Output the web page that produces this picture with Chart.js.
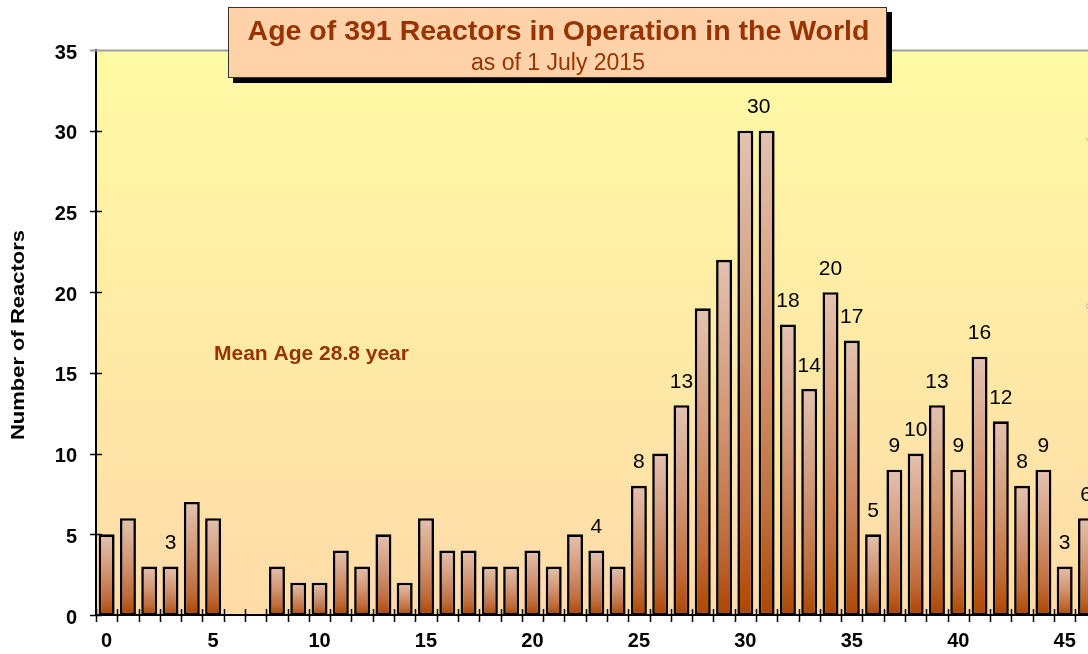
<!DOCTYPE html>
<html><head><meta charset="utf-8">
<script src="https://cdn.jsdelivr.net/npm/chart.js@4.4.1/dist/chart.umd.min.js"></script>
<style>
html,body{margin:0;padding:0;background:#fff;overflow:hidden;width:1088px;height:654px}
#wrap{position:absolute;left:0;top:0;width:1100px;height:654px}
</style>
</head><body><div id="wrap"><canvas id="c" width="1100" height="654"></canvas></div>
<script>
// ---- data ----
const ages = ['0','1','2','3','4','5','6','7','8','9','10','11','12','13','14','15','16','17','18','19','20','21','22','23','24','25','26','27','28','29','30','31','32','33','34','35','36','37','38','39','40','41','42','43','44','45','46'];
const reactors = [5,6,3,3,7,6,0,0,3,2,2,4,3,5,2,6,4,4,3,3,4,3,5,4,3,8,10,13,19,22,30,30,18,14,20,17,5,9,10,13,9,16,12,8,9,3,6];
const labeledAges = [3,23,25,27,31,32,33,34,35,36,37,38,39,40,41,42,43,44,45,46];
const xTickLabels = ['0','5','10','15','20','25','30','35','40','45'];
const yTickValues = [0,5,10,15,20,25,30,35];
const titleText = 'Age of 391 Reactors in Operation in the World';
const subtitleText = 'as of 1 July 2015';
const meanText = 'Mean Age 28.8 year';
const yTitleText = 'Number of Reactors';
const watermarkText = '\u00A9 Mycle Schneider Consulting';

const FONT = '"Liberation Sans", Arial, Helvetica, sans-serif';
const BROWN = '#993300';

function barGradient(ctx) {
  const chart = ctx.chart;
  const area = chart.chartArea;
  if (!area || ctx.type !== 'data') return '#C8825A';
  const y = chart.scales.y;
  const top = y.getPixelForValue(ctx.raw);
  const base = y.getPixelForValue(0);
  if (base - top < 1) return '#C8825A';
  const g = chart.ctx.createLinearGradient(0, top, 0, base);
  g.addColorStop(0, '#E3C2B0');
  g.addColorStop(0.45, '#D29674');
  g.addColorStop(0.8, '#BF6C3A');
  g.addColorStop(1, '#AE4600');
  return g;
}

const decor = {
  id: 'decor',
  beforeDraw(chart) {
    const {ctx, chartArea: a} = chart;
    ctx.save();
    const g = ctx.createLinearGradient(0, a.top, 0, a.bottom);
    g.addColorStop(0, '#FFFAA4');
    g.addColorStop(1, '#FFDBA8');
    ctx.fillStyle = g;
    ctx.fillRect(a.left, a.top, chart.width - a.left, a.bottom - a.top);
    ctx.restore();
  },
  afterDatasetsDraw(chart) {
    const {ctx} = chart;
    const meta = chart.getDatasetMeta(0);
    ctx.save();
    ctx.fillStyle = '#000';
    ctx.font = '21px ' + FONT;
    ctx.textAlign = 'center';
    ctx.textBaseline = 'alphabetic';
    labeledAges.forEach(i => {
      const el = meta.data[i];
      const dx = (i === 31) ? -8 : 0;
      ctx.fillText(String(reactors[i]), el.x + dx, el.y - 17.5);
    });
    ctx.restore();
  },
  afterDraw(chart) {
    const {ctx, chartArea: a, scales} = chart;
    ctx.save();
    // top frame line
    ctx.strokeStyle = '#9E9E9E';
    ctx.lineWidth = 2;
    ctx.beginPath();
    ctx.moveTo(a.left - 6, a.top + 0.5);
    ctx.lineTo(chart.width, a.top + 0.5);
    ctx.stroke();
    // y tick marks (crossing axis)
    ctx.strokeStyle = '#000';
    ctx.lineWidth = 1.5;
    yTickValues.forEach(v => {
      if (v === 35) return;
      const y = Math.round(scales.y.getPixelForValue(v)) + 0.5;
      ctx.beginPath();
      ctx.moveTo(a.left - 6, y);
      ctx.lineTo(a.left + 6, y);
      ctx.stroke();
    });
    // x tick marks at category boundaries
    const n = ages.length;
    const w = (a.right - a.left) / n;
    for (let i = 0; i <= n; i++) {
      const x = Math.round(a.left + i * w) + 0.5;
      ctx.beginPath();
      ctx.moveTo(x, a.bottom - 6);
      ctx.lineTo(x, a.bottom + 7);
      ctx.stroke();
    }
    // mean age note
    ctx.fillStyle = BROWN;
    ctx.font = 'bold 21px ' + FONT;
    ctx.textAlign = 'left';
    ctx.textBaseline = 'alphabetic';
    ctx.fillText(meanText, 214, 360);
    // y axis title (stretched along axis)
    ctx.save();
    ctx.translate(18.5, 335);
    ctx.rotate(-Math.PI / 2);
    ctx.font = 'bold 19px ' + FONT;
    const tw = ctx.measureText(yTitleText).width;
    ctx.scale(210 / tw, 1);
    ctx.fillStyle = '#000';
    ctx.textAlign = 'center';
    ctx.textBaseline = 'middle';
    ctx.fillText(yTitleText, 0, 0);
    ctx.restore();
    // watermark on right edge
    ctx.save();
    ctx.translate(1093, 210);
    ctx.rotate(Math.PI / 2);
    ctx.font = '15px ' + FONT;
    ctx.fillStyle = 'rgba(160,160,160,0.55)';
    ctx.textAlign = 'center';
    ctx.textBaseline = 'middle';
    ctx.fillText(watermarkText, 0, 0);
    ctx.restore();
    // title box with shadow
    const bx = 228, by = 7, bw = 659, bh = 71;
    ctx.fillStyle = '#000';
    ctx.fillRect(bx + 5, by + 5, bw, bh);
    ctx.fillStyle = '#FFD2AA';
    ctx.fillRect(bx, by, bw, bh);
    ctx.strokeStyle = '#333';
    ctx.lineWidth = 1;
    ctx.strokeRect(bx + 0.5, by + 0.5, bw - 1, bh - 1);
    ctx.fillStyle = BROWN;
    ctx.textAlign = 'center';
    ctx.textBaseline = 'alphabetic';
    ctx.font = 'bold 28.5px ' + FONT;
    ctx.fillText(titleText, 558.5, 39.5);
    ctx.font = '23px ' + FONT;
    ctx.fillText(subtitleText, 558, 70);
    ctx.restore();
  }
};

new Chart(document.getElementById('c'), {
  type: 'bar',
  data: {
    labels: ages,
    datasets: [{
      data: reactors,
      backgroundColor: barGradient,
      borderColor: '#000',
      borderWidth: 2.6,
      borderSkipped: false,
      categoryPercentage: 1,
      barPercentage: 0.75
    }]
  },
  options: {
    responsive: false,
    animation: false,
    events: [],
    layout: {padding: {top: 50, left: 0, right: 1, bottom: 0}},
    plugins: {legend: {display: false}, tooltip: {enabled: false}, title: {display: false}},
    scales: {
      x: {
        type: 'category',
        offset: true,
        grid: {display: false, drawTicks: false},
        border: {display: true, color: '#000', width: 2},
        ticks: {
          autoSkip: false, maxRotation: 0, minRotation: 0,
          padding: 14,
          color: '#000',
          font: {family: FONT, size: 20, weight: 'bold'},
          callback: (v, i) => xTickLabels.includes(ages[i]) ? ages[i] : ''
        },
        afterFit: s => { s.height = 39; }
      },
      y: {
        min: 0, max: 35,
        grid: {display: false, drawTicks: false},
        border: {display: true, color: '#000', width: 2},
        afterBuildTicks: s => { s.ticks = yTickValues.map(v => ({value: v})); },
        ticks: {
          padding: 19,
          labelOffset: 3,
          color: '#000',
          font: {family: FONT, size: 20, weight: 'bold'}
        },
        afterFit: s => { s.width = 96; }
      }
    }
  },
  plugins: [decor]
});
</script>
</body></html>
